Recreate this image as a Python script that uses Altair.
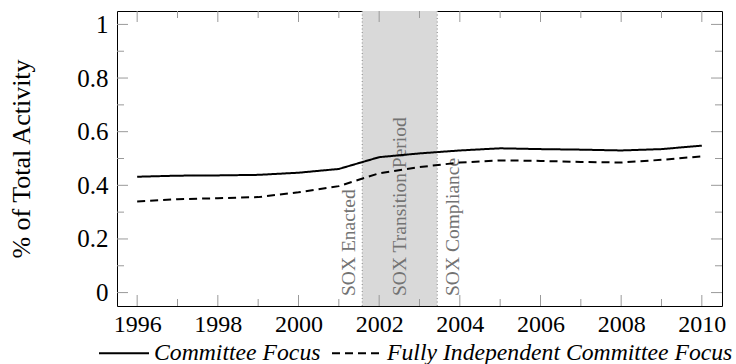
import altair as alt
import pandas as pd

# ---- data ----
years = list(range(1996, 2011))
committee_focus = [0.432, 0.436, 0.437, 0.439, 0.447, 0.461, 0.505, 0.519, 0.530, 0.538,
                   0.535, 0.533, 0.530, 0.535, 0.548]
fully_independent = [0.340, 0.348, 0.352, 0.356, 0.374, 0.397, 0.445, 0.468, 0.485, 0.493,
                     0.491, 0.487, 0.485, 0.495, 0.508]
series_names = ["Committee Focus", "Fully Independent Committee Focus"]

sox_start = 2001.58
sox_end = 2003.44
sox_labels = ["SOX Enacted", "SOX Transition Period", "SOX Compliance"]

x_major = [1996, 1998, 2000, 2002, 2004, 2006, 2008, 2010]
x_minor = [1997, 1999, 2001, 2003, 2005, 2007, 2009]
y_major = [0, 0.2, 0.4, 0.6, 0.8, 1]
y_minor = [0.1, 0.3, 0.5, 0.7, 0.9]

# ---- layout / style ----
W, H = 605, 295
FONT = "Liberation Serif"
TICK_COLOR = "#9a9a9a"
MAJ, MIN = 11, 7

xs = alt.Scale(domain=[1995.5, 2010.5], nice=False, zero=False)
ys = alt.Scale(domain=[-0.05, 1.05], nice=False, zero=False)
xaxis = alt.Axis(values=x_major, format="d", title=None, ticks=False, domain=False, grid=False,
                 labelFont=FONT, labelFontSize=24, labelColor="black", labelPadding=6)
yaxis = alt.Axis(values=y_major, format="~g", title="% of Total Activity", ticks=False, domain=False,
                 grid=False, labelFont=FONT, labelFontSize=25, labelColor="black", labelPadding=9,
                 titleFont=FONT, titleFontSize=26, titleFontWeight="normal", titleColor="black",
                 titlePadding=42)

rows = []
for name, vals in zip(series_names, [committee_focus, fully_independent]):
    for yr, v in zip(years, vals):
        rows.append({"year": yr, "value": v, "series": name})
lines_df = pd.DataFrame(rows)

band_df = pd.DataFrame({"start": [sox_start], "end": [sox_end]})
edges_df = pd.DataFrame({"x": [sox_start, sox_end]})

def X(field):
    return alt.X(field, scale=xs, axis=xaxis)

def Y(field):
    return alt.Y(field, scale=ys, axis=yaxis)

band = alt.Chart(band_df).mark_rect(color="#d9d9d9").encode(
    x=X("start:Q"), x2="end:Q")

edges = alt.Chart(edges_df).mark_rule(color="#888888", strokeDash=[1, 2.5], strokeWidth=1).encode(
    x=X("x:Q"))

text_common = dict(angle=270, align="left", font=FONT, fontSize=19.5, color="#737373")
t1 = alt.Chart(pd.DataFrame({"x": [sox_start], "label": [sox_labels[0]]})).mark_text(
    baseline="alphabetic", dy=-7, **text_common).encode(
    x=X("x:Q"), y=alt.value(H - 10), text="label:N")
t2 = alt.Chart(pd.DataFrame({"x": [(sox_start + sox_end) / 2], "label": [sox_labels[1]]})).mark_text(
    baseline="middle", **text_common).encode(
    x=X("x:Q"), y=alt.value(H - 10), text="label:N")
t3 = alt.Chart(pd.DataFrame({"x": [sox_end], "label": [sox_labels[2]]})).mark_text(
    baseline="top", dy=7, **text_common).encode(
    x=X("x:Q"), y=alt.value(H - 10), text="label:N")

lines = alt.Chart(lines_df).mark_line(color="black", strokeWidth=2).encode(
    x=X("year:Q"),
    y=Y("value:Q"),
    strokeDash=alt.StrokeDash(
        "series:N",
        scale=alt.Scale(domain=series_names, range=[[1, 0], [8, 5]]),
        legend=alt.Legend(
            title=None, orient="none", direction="horizontal", legendX=-19, legendY=316,
            symbolType="stroke", symbolSize=2500, symbolStrokeWidth=2, symbolStrokeColor="black",
            labelFont=FONT, labelFontSize=23.7, labelFontStyle="italic", labelColor="black",
            labelOffset=4, columnPadding=7, padding=0, labelLimit=0)),
    detail="series:N")

xmaj_df = pd.DataFrame({"t": x_major})
xmin_df = pd.DataFrame({"t": x_minor})
ymaj_df = pd.DataFrame({"t": y_major})
ymin_df = pd.DataFrame({"t": y_minor})

tick_layers = []
for df, L in [(xmaj_df, MAJ), (xmin_df, MIN)]:
    tick_layers.append(alt.Chart(df).mark_rule(color=TICK_COLOR, strokeWidth=1).encode(
        x=X("t:Q"), y=alt.value(H), y2=alt.value(H - L)))
    tick_layers.append(alt.Chart(df).mark_rule(color=TICK_COLOR, strokeWidth=1).encode(
        x=X("t:Q"), y=alt.value(0), y2=alt.value(L)))
for df, L in [(ymaj_df, MAJ), (ymin_df, MIN)]:
    tick_layers.append(alt.Chart(df).mark_rule(color=TICK_COLOR, strokeWidth=1).encode(
        y=Y("t:Q"), x=alt.value(0), x2=alt.value(L)))
    tick_layers.append(alt.Chart(df).mark_rule(color=TICK_COLOR, strokeWidth=1).encode(
        y=Y("t:Q"), x=alt.value(W), x2=alt.value(W - L)))

chart = alt.layer(band, edges, t1, t2, t3, *tick_layers, lines).properties(
    width=W, height=H,
    padding={"left": 117, "top": 11, "right": 14, "bottom": 58},
    autosize=alt.AutoSizeParams(type="none"),
    background="white",
).configure_view(stroke="black", strokeWidth=1)

chart.save("out.html", embed_options={"renderer": "svg", "actions": False})
